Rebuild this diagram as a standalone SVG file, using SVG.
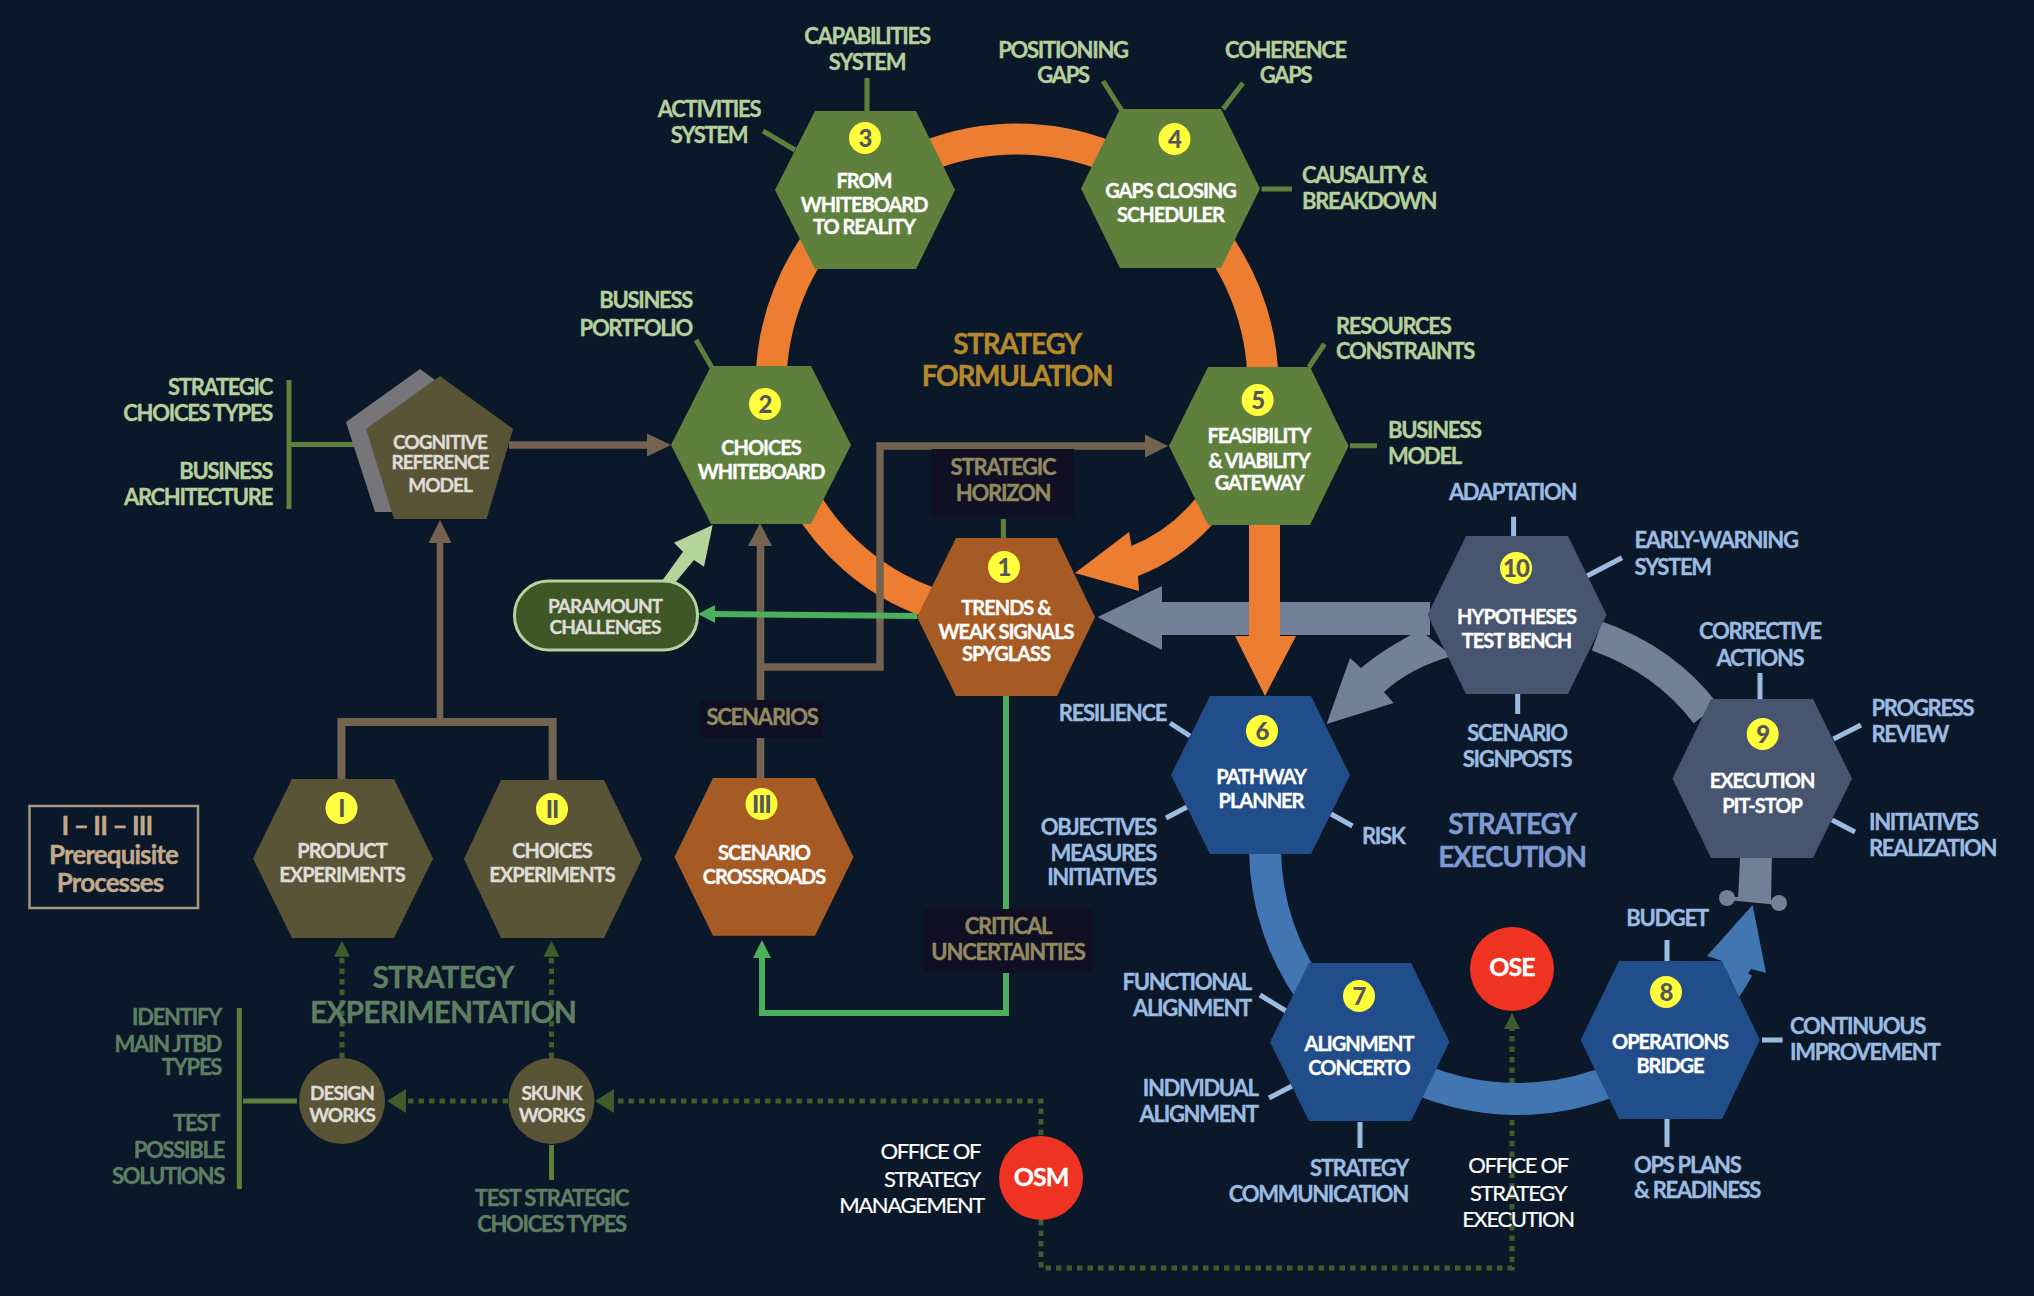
<svg xmlns="http://www.w3.org/2000/svg" width="2034" height="1296" viewBox="0 0 2034 1296">
<style>
text{font-family:"Lato","Liberation Sans",sans-serif;font-weight:700;text-anchor:middle;letter-spacing:-1px;stroke-width:.35px;transform:translateY(.7px)}
.s{font-size:22px}.s text{letter-spacing:-1.3px}
.w{font-size:20px;fill:#fff;stroke:#fff}
.g{fill:#b5d09b;stroke:#b5d09b}.b{fill:#9cbbe0;stroke:#9cbbe0}.d{fill:#5f7f63;stroke:#5f7f63}.c{fill:#dedcd6;stroke:#dedcd6}
.o{font-size:22px;fill:#fff;stroke:#fff}.o text{font-weight:400;letter-spacing:-1.35px;stroke-width:.2px}.e{text-anchor:end}.l{text-anchor:start}
.t{font-size:28px}.t text{letter-spacing:-1.3px}.x{font-size:30px}.x text{letter-spacing:-.85px}
.h{fill:#928a5f;stroke:#928a5f;font-size:22px;letter-spacing:-1.2px}
.n{font-size:24px;fill:#55555a;font-weight:900}
.p{font-size:26px;fill:#c2a98c;stroke:#c2a98c}.p text{letter-spacing:-.9px}
.f{font-size:19px}.r{font-size:25px;fill:#fff;stroke:#fff}
.gr{fill:#5e803c}.br{fill:#a65a24}.bl{fill:#214e8a}.sl{fill:#475570}.ol{fill:#5a5436}
.y{fill:#ffff3c}.lb{fill:#100f24}
.sg{stroke:#5e803c;stroke-width:5;fill:none}.sb{stroke:#9cbbe0;stroke-width:5;fill:none}
.tan{stroke:#736350;stroke-width:8;fill:none}.dot{stroke:#3f5c2a;stroke-width:5;stroke-dasharray:5.5 5;fill:none}
.grn{stroke:#4caf5c;stroke-width:6;fill:none}
</style>
<rect width="2034" height="1296" fill="#0a1829"/>
<g id="connectors">
<g class="dot"><path d="M1041 1135V1101H612"/><path d="M508 1101H405"/><path d="M342 1058V954"/><path d="M551.500 1058V954"/><path d="M1041 1220V1268H1512V1027"/></g>
<g fill="#3f5c2a"><path d="M595 1101l19-12v24z"/><path d="M387 1101l19-12v24z"/><path d="M342 940.700l-8 16h16z"/><path d="M551.500 940.700l-8 16h16z"/><path d="M1512 1013l-8 16h16z"/></g>
<path d="M771 385A246 246 0 0 1 1263 385" fill="none" stroke="#ec7d31" stroke-width="31"/>
<path d="M790.500 470A235 235 0 0 0 950 608.700" fill="none" stroke="#ec7d31" stroke-width="31"/>
<path d="M1430 618.500H1150" stroke="#738198" stroke-width="33" fill="none"/>
<path d="M1097.600 617L1162 586V650z" fill="#738198"/>
<path d="M1326.600 724L1350 658L1361 668Q1382 650 1420 630L1452 656Q1410 668 1384 692L1393.600 703z" fill="#738198"/>
<path d="M1597 636Q1665 660 1706 714" stroke="#738198" stroke-width="31" fill="none"/>
<path d="M1740.500 850H1772L1771 903L1738 899z" fill="#738198"/>
<path d="M1727 898L1779 903" stroke="#738198" stroke-width="4"/>
<circle cx="1727" cy="898" r="8" fill="#738198"/><circle cx="1779" cy="903" r="8" fill="#738198"/>
<path d="M1265 850A252 252 0 0 0 1738 968" stroke="#4276b3" stroke-width="32" fill="none"/>
<path d="M1752.600 905L1707 956L1721.500 960.700L1735 995L1751 969L1766 972.700z" fill="#4276b3"/>
<path d="M1131.500 546Q1170 530 1195 499L1212 525Q1180 560 1138 576L1139 591L1075 573L1129 532z" fill="#ec7d31"/>
<path d="M1249 520H1280V636H1296L1265 696L1235 636H1249z" fill="#ec7d31"/>
<g class="tan">
<path d="M509 445H650" stroke-width="7.500"/><path d="M440 722V540" stroke-width="6.500"/>
<path d="M341.500 779V722H552.700V780"/>
<path d="M760.500 778V540" stroke-width="7.500"/><path d="M760.500 667H880V446H1147" stroke-width="7.500"/>
</g>
<g fill="#736350"><path d="M671 445l-24-11.500v23z"/><path d="M440 520l-11.500 23h23z"/><path d="M760 523l-12 23h24z"/><path d="M1168 446l-23-11.500v23z"/></g>
<path d="M1006 693V1013H762V955" class="grn"/>
<path d="M762 940l-9 18h18z" fill="#4caf5c"/>
<path d="M917 616L712 614" stroke="#4caf5c" stroke-width="6"/>
<path d="M698 614l17-9v18z" fill="#4caf5c"/>
<path d="M712.700 525L674 542.700L683 551.700L662.700 580L675.700 582L694 560L704 566.700z" fill="#b5d49c"/>
<path class="sg" d="M867 78V111M763 131L795 150M1103 81L1121.500 110M1243 83L1223 109M1261.600 189H1292M696 340L711.600 367M1324.500 344L1309 367M1350 445.700H1377M1003.400 519V538M239.300 1008V1189M243 1101H297M551.500 1145V1180M289 380V509M289 444.500H355"/>
<path class="sb" d="M1513.600 516.700V536M1587 576L1622 557.700M1517.700 694V714M1760 673V699M1833.500 739L1861 725M1832 820L1855 832M1667 940V961M1762 1040H1782.600M1667 1119V1147M1360 1122V1148M1260 995L1286 1011M1269 1098L1292 1086M1170 723L1190 736M1166 818L1187 807M1331 814L1352.500 826"/>
</g>
<g id="labels">
<g class="s g"><text x="867" y="43">CAPABILITIES</text><text x="867" y="69">SYSTEM</text><text x="709" y="116">ACTIVITIES</text><text x="709" y="142">SYSTEM</text><text x="1063" y="57">POSITIONING</text><text x="1063" y="82">GAPS</text><text x="1285.500" y="57">COHERENCE</text><text x="1285.500" y="82">GAPS</text><text class="l" x="1302" y="182">CAUSALITY &amp;</text><text class="l" x="1302" y="208">BREAKDOWN</text><text class="e" x="692" y="307">BUSINESS</text><text class="e" x="692" y="335">PORTFOLIO</text><text class="l" x="1336" y="333.500">RESOURCES</text><text class="l" x="1336" y="358">CONSTRAINTS</text><text class="l" x="1388" y="437">BUSINESS</text><text class="l" x="1388" y="463">MODEL</text><text class="e" x="272" y="394">STRATEGIC</text><text class="e" x="272" y="420">CHOICES TYPES</text><text class="e" x="272" y="478">BUSINESS</text><text class="e" x="272" y="504">ARCHITECTURE</text></g>
<g class="s b"><text x="1512.500" y="499">ADAPTATION</text><text class="l" x="1634.500" y="547.700">EARLY-WARNING</text><text class="l" x="1634.500" y="574">SYSTEM</text><text x="1760" y="638.700">CORRECTIVE</text><text x="1760" y="665">ACTIONS</text><text class="l" x="1871.500" y="715">PROGRESS</text><text class="l" x="1871.500" y="741">REVIEW</text><text class="l" x="1869" y="829">INITIATIVES</text><text class="l" x="1869" y="855">REALIZATION</text><text class="l" x="1790" y="1033">CONTINUOUS</text><text class="l" x="1790" y="1059">IMPROVEMENT</text><text x="1667" y="925">BUDGET</text><text class="l" x="1634" y="1172">OPS PLANS</text><text class="l" x="1634" y="1197">&amp; READINESS</text><text x="1517" y="740">SCENARIO</text><text x="1517" y="766">SIGNPOSTS</text><text class="e" x="1408" y="1175">STRATEGY</text><text class="e" x="1408" y="1201">COMMUNICATION</text><text class="e" x="1251" y="989">FUNCTIONAL</text><text class="e" x="1251" y="1015">ALIGNMENT</text><text class="e" x="1257.600" y="1095">INDIVIDUAL</text><text class="e" x="1257.600" y="1121">ALIGNMENT</text><text class="e" x="1166" y="720">RESILIENCE</text><text class="e" x="1156" y="834">OBJECTIVES</text><text class="e" x="1156" y="860">MEASURES</text><text class="e" x="1156" y="884">INITIATIVES</text><text class="l" x="1362" y="843">RISK</text></g>
<g class="s d"><text class="e" x="221" y="1024">IDENTIFY</text><text class="e" x="221" y="1051">MAIN JTBD</text><text class="e" x="221" y="1074">TYPES</text><text class="e" x="219" y="1130">TEST</text><text class="e" x="224" y="1157">POSSIBLE</text><text class="e" x="224" y="1183">SOLUTIONS</text><text x="551.500" y="1205">TEST STRATEGIC</text><text x="551.500" y="1231">CHOICES TYPES</text></g>
<g class="o"><text x="1518" y="1172">OFFICE OF</text><text x="1518" y="1200">STRATEGY</text><text x="1518" y="1226">EXECUTION</text><text class="e" x="980" y="1158">OFFICE OF</text><text class="e" x="980" y="1186">STRATEGY</text><text class="e" x="984" y="1212">MANAGEMENT</text></g>
<g class="t" fill="#b5882b" stroke="#b5882b"><text x="1017" y="353">STRATEGY</text><text x="1017" y="385">FORMULATION</text></g>
<g class="t" fill="#7e9ad0" stroke="#7e9ad0"><text x="1512" y="833">STRATEGY</text><text x="1512" y="866">EXECUTION</text></g>
<g class="x d"><text x="443" y="987">STRATEGY</text><text x="443" y="1022">EXPERIMENTATION</text></g>
<g id="label-horizon"><rect class="lb" x="931.500" y="449" width="142.500" height="68"/><text class="h" x="1003" y="474">STRATEGIC</text><text class="h" x="1003" y="500">HORIZON</text></g>
<g id="label-scenarios"><rect class="lb" x="700" y="700" width="123" height="38"/><text class="h" x="762" y="724.500">SCENARIOS</text></g>
<g id="label-uncertainties"><rect class="lb" x="924.500" y="909" width="167.500" height="64"/><text class="h" x="1008" y="933">CRITICAL</text><text class="h" x="1008" y="959">UNCERTAINTIES</text></g>
<g id="prereq"><rect x="29.500" y="806" width="168.500" height="102" fill="none" stroke="#a8957f" stroke-width="2.500"/><g class="p"><text x="107" y="834">I – II – III</text><text x="113.500" y="863">Prerequisite</text><text x="110" y="891">Processes</text></g></g>
</g>
<g id="n2"><path class="gr" d="M671 445L711 366H811L851 445L811 524H711z"/><circle class="y" cx="765" cy="404" r="16"/><text class="n" x="765" y="412">2</text><text class="w" x="761" y="454">CHOICES</text><text class="w" x="761" y="478">WHITEBOARD</text></g>
<g id="n3"><path class="gr" d="M775 190L815 111H916L955 190L916 269H815z"/><circle class="y" cx="865" cy="138" r="16"/><text class="n" x="865" y="146">3</text><text class="w" x="864" y="187">FROM</text><text class="w" x="864" y="211">WHITEBOARD</text><text class="w" x="864" y="233">TO REALITY</text></g>
<g id="n4"><path class="gr" d="M1081 188.500L1120 109H1221L1260 188.500L1221 268H1120z"/><circle class="y" cx="1174.500" cy="139" r="16"/><text class="n" x="1174.500" y="147">4</text><text class="w" x="1170.500" y="197">GAPS CLOSING</text><text class="w" x="1170.500" y="221">SCHEDULER</text></g>
<g id="n5"><path class="gr" d="M1169 446L1208 367H1310L1348.500 446L1310 525H1208z"/><circle class="y" cx="1257.600" cy="400" r="16"/><text class="n" x="1257.600" y="408">5</text><text class="w" x="1259" y="442.700">FEASIBILITY</text><text class="w" x="1259" y="467">&amp; VIABILITY</text><text class="w" x="1259" y="489">GATEWAY</text></g>
<g id="n1"><path class="br" d="M917 617L956 538H1057L1095 617L1057 696H956z"/><circle class="y" cx="1004" cy="567" r="16"/><text class="n" x="1004" y="575">1</text><text class="w" x="1006" y="614">TRENDS &amp;</text><text class="w" x="1006" y="638">WEAK SIGNALS</text><text class="w" x="1006" y="660">SPYGLASS</text></g>
<g id="n6"><path class="bl" d="M1171 775L1210 696H1311L1350 775L1311 854H1210z"/><circle class="y" cx="1262" cy="731" r="16"/><text class="n" x="1262" y="739">6</text><text class="w" x="1261" y="783">PATHWAY</text><text class="w" x="1261" y="807">PLANNER</text></g>
<g id="n7"><path class="bl" d="M1270 1042L1309 963H1411L1449.500 1042L1411 1121H1309z"/><circle class="y" cx="1359" cy="996" r="16"/><text class="n" x="1359" y="1004">7</text><text class="w" x="1359" y="1050">ALIGNMENT</text><text class="w" x="1359" y="1074">CONCERTO</text></g>
<g id="n8"><path class="bl" d="M1580.600 1040L1619 961H1722L1760 1040L1722 1119H1619z"/><circle class="y" cx="1666" cy="992" r="16"/><text class="n" x="1666" y="1000">8</text><text class="w" x="1670" y="1048">OPERATIONS</text><text class="w" x="1670" y="1072">BRIDGE</text></g>
<g id="n9"><path class="sl" d="M1672.500 778.500L1711 699H1813L1852 778.500L1813 858H1711z"/><circle class="y" cx="1762.700" cy="734" r="16"/><text class="n" x="1762.700" y="742">9</text><text class="w" x="1762" y="787">EXECUTION</text><text class="w" x="1762" y="812">PIT-STOP</text></g>
<g id="n10"><path class="sl" d="M1427.500 615L1466 536H1568L1606.600 615L1568 694H1466z"/><circle class="y" cx="1516" cy="568" r="16"/><text class="n" x="1516" y="576">10</text><text class="w" x="1516.500" y="623">HYPOTHESES</text><text class="w" x="1516.500" y="647">TEST BENCH</text></g>
<g id="nI"><path class="ol" d="M253 858.500L292 779H394L433 858.500L394 938H292z"/><circle class="y" cx="341.500" cy="808" r="16"/><text class="n" x="341.500" y="816">I</text><g class="c" style="font-size:20px"><text x="342" y="857">PRODUCT</text><text x="342" y="881">EXPERIMENTS</text></g></g>
<g id="nII"><path class="ol" d="M464 859L501 780H604L642 859L604 938H501z"/><circle class="y" cx="552" cy="809" r="16"/><text class="n" x="552" y="817">II</text><g class="c" style="font-size:20px"><text x="552" y="857">CHOICES</text><text x="552" y="881">EXPERIMENTS</text></g></g>
<g id="nIII"><path class="br" d="M674.500 857L713 778H815L853.500 857L815 935.700H713z"/><circle class="y" cx="761.500" cy="804" r="16"/><text class="n" x="761.500" y="812">III</text><text class="w" x="764" y="859">SCENARIO</text><text class="w" x="764" y="883">CROSSROADS</text></g>
<g id="cognitive"><path d="M420 369L493 422L467 512H375L346 422z" fill="#76757a"/><path class="ol" d="M440 376L513 429L486.600 519H394L366 429z"/><g class="c f"><text x="440" y="448">COGNITIVE</text><text x="440" y="468">REFERENCE</text><text x="440" y="491">MODEL</text></g></g>
<g id="paramount"><rect x="514.500" y="581" width="183" height="69" rx="34" fill="#3f5626" stroke="#b3d49b" stroke-width="3"/><g class="c f"><text x="605" y="612">PARAMOUNT</text><text x="605" y="633">CHALLENGES</text></g></g>
<g id="design"><circle class="ol" cx="342" cy="1101" r="43"/><g class="c f"><text x="342" y="1099">DESIGN</text><text x="342" y="1121">WORKS</text></g></g>
<g id="skunk"><circle class="ol" cx="551.500" cy="1101" r="43"/><g class="c f"><text x="551.500" y="1099">SKUNK</text><text x="551.500" y="1121">WORKS</text></g></g>
<g id="ose"><circle cx="1512" cy="969" r="42" fill="#ee3323"/><text class="r" x="1512" y="975">OSE</text></g>
<g id="osm"><circle cx="1041" cy="1178" r="42" fill="#ee3323"/><text class="r" x="1041" y="1185">OSM</text></g>
</svg>
